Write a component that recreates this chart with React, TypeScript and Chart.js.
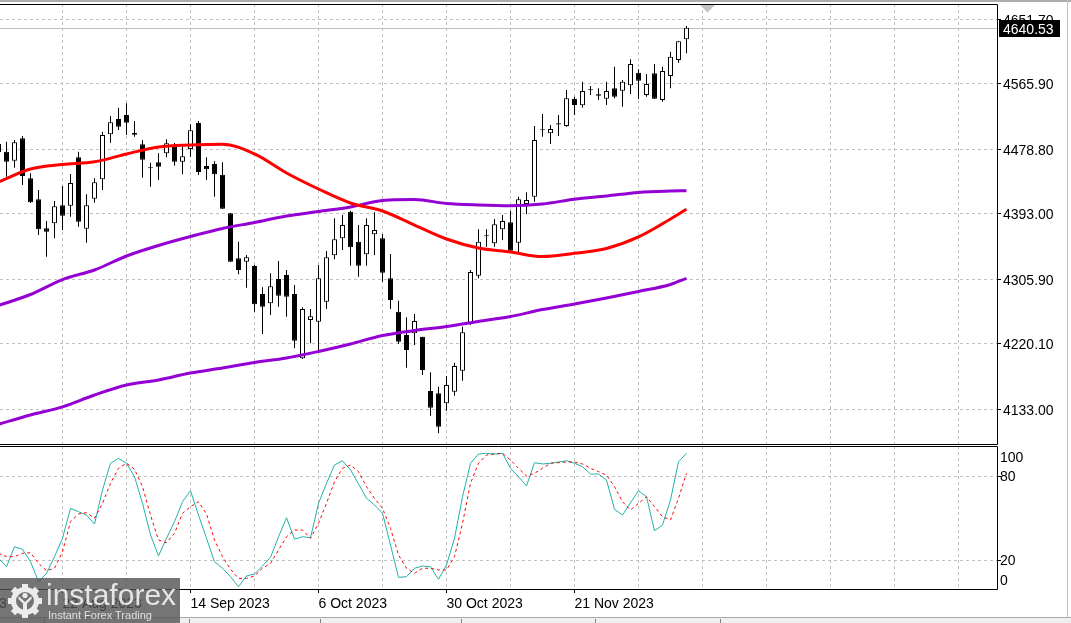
import React, { useEffect, useRef } from 'react';
import { Chart, registerables } from 'chart.js';

Chart.register(...registerables);

// ---------------- data ----------------
const barOpen = [
  4475.2, 4475.6, 4463.6, 4493.4, 4440.2, 4412.3, 4373.7, 4380.4, 4404.3, 4403.8,
  4468.2, 4373.2, 4413.1, 4438.9, 4498.8, 4519.1, 4524.4, 4500.5, 4485.5, 4453.9,
  4461.5, 4473.5, 4482.3, 4462.3, 4479.2, 4513.8, 4456.6, 4459.3, 4445.0, 4393.7,
  4333.8, 4329.3, 4323.6, 4286.4, 4274.0, 4306.3, 4311.6, 4286.4, 4200.8, 4251.8,
  4249.5, 4276.1, 4337.8, 4360.4, 4395.8, 4355.9, 4339.2, 4365.8, 4360.4, 4307.2,
  4262.8, 4231.8, 4234.1, 4229.6, 4157.3, 4154.3, 4141.0, 4156.4, 4184.3, 4247.4,
  4310.7, 4364.4, 4353.8, 4372.4, 4381.7, 4354.6, 4406.1, 4415.8, 4504.5, 4500.1,
  4513.4, 4509.8, 4545.7, 4537.3, 4557.9, 4552.0, 4546.1, 4559.9, 4556.7, 4563.9,
  4580.7, 4551.0, 4579.9, 4544.4, 4576.3, 4597.6, 4625.1,
];
const barHigh = [
  4491.2, 4488.9, 4491.2, 4496.5, 4446.9, 4424.7, 4383.4, 4410.0, 4430.0, 4446.0,
  4475.6, 4419.0, 4440.2, 4502.2, 4523.1, 4534.1, 4540.0, 4516.4, 4491.2, 4461.0,
  4473.5, 4492.1, 4487.2, 4482.3, 4512.1, 4516.4, 4468.2, 4462.8, 4461.5, 4394.1,
  4355.9, 4338.2, 4324.9, 4295.3, 4313.9, 4330.2, 4318.3, 4298.3, 4268.7, 4266.4,
  4324.9, 4343.5, 4387.0, 4391.4, 4397.1, 4378.1, 4387.0, 4395.0, 4366.2, 4339.6,
  4277.4, 4255.4, 4259.8, 4229.6, 4182.2, 4163.1, 4177.3, 4195.0, 4242.9, 4318.3,
  4372.4, 4372.4, 4386.1, 4391.4, 4396.7, 4415.8, 4421.6, 4509.8, 4525.8, 4511.1,
  4524.4, 4557.7, 4548.8, 4568.7, 4563.0, 4559.9, 4568.7, 4588.7, 4571.0, 4598.5,
  4585.2, 4579.0, 4592.3, 4588.7, 4608.6, 4622.4, 4642.8,
];
const barLow = [
  4469.9, 4442.4, 4454.3, 4431.3, 4407.4, 4364.8, 4336.0, 4360.4, 4371.5, 4389.2,
  4375.9, 4354.6, 4407.8, 4424.7, 4487.6, 4504.5, 4497.8, 4495.6, 4441.0, 4429.1,
  4438.0, 4468.2, 4457.0, 4445.6, 4469.0, 4444.6, 4438.0, 4415.8, 4399.4, 4328.9,
  4312.6, 4294.7, 4262.8, 4233.2, 4258.4, 4269.5, 4256.2, 4214.1, 4199.9, 4220.8,
  4211.9, 4266.4, 4332.5, 4344.9, 4324.0, 4309.4, 4324.0, 4338.2, 4302.7, 4266.4,
  4219.9, 4188.3, 4218.5, 4178.6, 4124.5, 4101.1, 4131.1, 4151.1, 4171.0, 4245.1,
  4307.2, 4349.3, 4349.3, 4358.2, 4342.2, 4340.9, 4392.8, 4409.1, 4495.6, 4485.9,
  4496.5, 4508.9, 4524.4, 4534.1, 4551.0, 4544.4, 4537.7, 4546.6, 4535.5, 4552.4,
  4545.7, 4548.8, 4545.7, 4542.1, 4559.9, 4594.0, 4606.5,
];
const barClose = [
  4485.9, 4462.3, 4488.1, 4443.3, 4408.3, 4372.4, 4369.2, 4403.0, 4390.5, 4434.0,
  4382.5, 4404.3, 4434.9, 4497.8, 4514.7, 4508.9, 4514.2, 4498.2, 4465.0, 4453.5,
  4455.7, 4486.8, 4462.3, 4469.5, 4504.1, 4448.6, 4452.2, 4445.6, 4399.8, 4329.3,
  4318.3, 4335.2, 4272.7, 4269.5, 4296.6, 4284.1, 4282.8, 4224.2, 4266.4, 4256.7,
  4307.2, 4335.2, 4359.1, 4378.1, 4348.5, 4324.0, 4378.1, 4371.5, 4314.7, 4278.4,
  4222.9, 4211.9, 4250.4, 4185.3, 4135.1, 4109.9, 4165.3, 4190.6, 4235.4, 4315.6,
  4355.9, 4363.1, 4379.1, 4383.4, 4343.9, 4412.3, 4411.4, 4491.2, 4504.1, 4505.8,
  4511.8, 4546.6, 4537.7, 4556.3, 4557.4, 4550.1, 4556.3, 4548.8, 4568.7, 4592.3,
  4570.0, 4565.7, 4546.1, 4582.9, 4602.0, 4622.4, 4640.53,
];

// moving averages, read at these bar indices
const maBars = [0, 4, 8, 12, 16, 20, 24, 28, 32, 36, 40, 44, 48, 52, 56, 60, 64, 68, 72, 76, 80, 84, 86];
const maRed = [4435.3, 4452.6, 4458.6, 4462.2, 4472.6, 4481.9, 4484.5, 4485.5, 4472.6, 4447.3, 4426.0, 4407.4, 4396.7, 4378.1, 4359.5, 4347.5, 4342.2, 4336.2, 4340.5, 4346.9, 4362.2, 4386.1, 4399.0];
const maVioletUpper = [4271.1, 4285.7, 4305.6, 4318.3, 4336.9, 4350.9, 4362.8, 4373.5, 4381.4, 4390.1, 4396.1, 4402.1, 4410.7, 4412.0, 4406.7, 4404.7, 4403.8, 4406.1, 4412.4, 4416.7, 4421.5, 4423.3, 4423.7];
const maVioletLower = [4113.05, 4125.4, 4136.3, 4152.0, 4165.3, 4172.0, 4181.3, 4187.9, 4195.2, 4201.2, 4209.9, 4219.9, 4231.2, 4237.8, 4243.1, 4249.8, 4256.4, 4265.7, 4273.1, 4281.0, 4289.7, 4299.0, 4307.2];

// stochastic oscillator
const stochMain = [
  21.2, 15.2, 29.5, 27.6, 18.8, 4.5, 10.5, 22.4, 35.5, 56.9,
  54.5, 52.1, 45.7, 70, 89.1, 92.6, 89.1, 79.5, 60.5, 37.9,
  22.9, 35.5, 47.4, 61.6, 69.5, 52.1, 35.5, 18.8, 14.1, 8.1,
  0.9, 8.6, 10, 15.7, 21.9, 36.6, 50.2, 35, 36.6, 35.9,
  60.5, 74.8, 87.9, 90.9, 84.3, 74.3, 64.1, 59.3, 53.4, 30.7,
  7.6, 8.1, 14.1, 15.7, 15.2, 6.2, 16.4, 35.5, 65.2, 89.1,
  95.7, 96.2, 95.7, 96.2, 85.5, 79.5, 72.9, 89.5, 88.6, 89.1,
  90, 90.9, 89.1, 86.6, 81.4, 81.4, 77.1, 56.2, 52.1, 60.9,
  69.5, 65.2, 40.9, 45, 62.9, 90.2, 96.2,
];
const stochSignal = [
  24.8, 22.4, 22.4, 24.8, 25.2, 17.6, 12.4, 14.1, 25.9, 47.4,
  52.9, 53.8, 49.8, 60.5, 74.8, 85.5, 89.1, 84.8, 72.4, 52.1,
  34.3, 32.4, 39.1, 53.4, 58.1, 61.6, 52.9, 34.3, 22.4, 13.4,
  6.9, 6.9, 8.6, 14.1, 17.6, 27.1, 36.6, 41.4, 41.4, 35.5,
  46.2, 60.5, 75.9, 85.5, 87.9, 83.1, 72.4, 64.1, 56.9, 42.6,
  23.6, 14.1, 10.5, 14.1, 14.1, 12.9, 12.9, 22.4, 46.2, 74.8,
  89.1, 95, 95.7, 96.2, 91.4, 85.5, 80, 81.9, 85.5, 89.1,
  89.5, 90, 90, 88.6, 85.5, 83.1, 80.7, 72.4, 61.6, 55.7,
  60.5, 65.2, 58.1, 50.9, 48.6, 64.1, 81.9,
];

// axes
const priceTicks = [4133.0, 4220.1, 4305.9, 4393.0, 4478.8, 4565.9, 4651.7];
const lastPrice = 4640.53;
const stochGridLevels = [20, 80];
const stochLabels = [100, 80, 20, 0];
const dateTickBars = [-8, 8, 24, 40, 56, 72];
const dateTickLabels = ['31 Jul 2023', '22 Aug 2023', '14 Sep 2023', '6 Oct 2023', '30 Oct 2023', '21 Nov 2023'];

// ---------------- layout / style ----------------
const W = 1071;
const AXIS_W = 74;
const X_MIN = 0.1875;
const X_MAX = 124.8125;
const PRICE_MIN = 4086.85;
const PRICE_MAX = 4672.05;
const STOCH_MIN = -0.71;
const STOCH_MAX = 101.43;
const GRID = '#c0c0c0';
const FAMILY = "'Liberation Sans', Arial, sans-serif";
const FONT = { family: FAMILY, size: 14 };
const LABEL_SHIFT = 1.5;
const SHIFT_MARK_X = 707.5;
const tabSeparators = [44, 189, 320, 461, 595, 720];

const mainDecor = {
  id: 'mainDecor',
  beforeDatasetsDraw(chart: any) {
    const { ctx, chartArea: a, scales } = chart;
    const y = Math.round(scales.y.getPixelForValue(lastPrice)) + 0.5;
    ctx.save();
    ctx.strokeStyle = '#c0c0c0';
    ctx.lineWidth = 1;
    ctx.beginPath();
    ctx.moveTo(a.left, y);
    ctx.lineTo(a.right, y);
    ctx.stroke();
    ctx.restore();
  },
  afterDraw(chart: any) {
    const { ctx, chartArea: a, scales } = chart;
    ctx.save();
    // frame
    ctx.strokeStyle = '#000';
    ctx.lineWidth = 1;
    ctx.beginPath();
    ctx.moveTo(a.left, a.top + 0.5);
    ctx.lineTo(a.right + 0.5, a.top + 0.5);
    ctx.lineTo(a.right + 0.5, a.bottom + 0.5);
    ctx.lineTo(a.left, a.bottom + 0.5);
    ctx.stroke();
    // shift marker
    ctx.fillStyle = '#c4c4c4';
    ctx.beginPath();
    ctx.moveTo(SHIFT_MARK_X - 7.5, a.top + 1);
    ctx.lineTo(SHIFT_MARK_X + 7.5, a.top + 1);
    ctx.lineTo(SHIFT_MARK_X, a.top + 8.5);
    ctx.closePath();
    ctx.fill();
    // last price label
    const y = Math.round(scales.y.getPixelForValue(lastPrice)) + 0.5;
    ctx.fillStyle = '#000';
    ctx.fillRect(a.right + 2, y - 8.5, 61, 17);
    ctx.fillStyle = '#fff';
    ctx.font = `14px ${FAMILY}`;
    ctx.textBaseline = 'middle';
    ctx.textAlign = 'left';
    ctx.fillText(lastPrice.toFixed(2), a.right + 6, y + LABEL_SHIFT);
    ctx.restore();
  },
};

const subDecor = {
  id: 'subDecor',
  afterDraw(chart: any) {
    const { ctx, chartArea: a, scales } = chart;
    ctx.save();
    ctx.strokeStyle = '#000';
    ctx.lineWidth = 1;
    ctx.beginPath();
    ctx.moveTo(a.left, a.top + 0.5);
    ctx.lineTo(a.right + 0.5, a.top + 0.5);
    ctx.lineTo(a.right + 0.5, a.bottom + 0.5);
    ctx.lineTo(a.left, a.bottom + 0.5);
    ctx.stroke();
    ctx.fillStyle = '#000';
    ctx.font = `14px ${FAMILY}`;
    ctx.textBaseline = 'middle';
    ctx.textAlign = 'left';
    stochLabels.forEach((v) => {
      let py = scales.y.getPixelForValue(v);
      py = Math.max(a.top + 11, Math.min(a.bottom - 9, py));
      ctx.fillText(String(v), a.right + 3, py + LABEL_SHIFT);
    });
    ctx.restore();
  },
};

export default function App() {
  const mainRef = useRef<HTMLCanvasElement>(null);
  const subRef = useRef<HTMLCanvasElement>(null);

  useEffect(() => {
    const bars = barOpen.map((_, i) => i);
    const gridBars: number[] = [];
    for (let b = 0; b <= 120; b += 8) gridBars.push(b);
    const subTickBars = [-8, ...gridBars];

    const main = new Chart(mainRef.current as HTMLCanvasElement, {
      type: 'bar',
      data: {
        datasets: [
          {
            type: 'line', label: 'MA red',
            data: maBars.map((b, k) => ({ x: b, y: maRed[k] })),
            borderColor: '#ff0000', borderWidth: 3, pointRadius: 0,
            cubicInterpolationMode: 'monotone', order: 1,
          },
          {
            type: 'line', label: 'MA violet upper',
            data: maBars.map((b, k) => ({ x: b, y: maVioletUpper[k] })),
            borderColor: '#9400d3', borderWidth: 3, pointRadius: 0,
            cubicInterpolationMode: 'monotone', order: 2,
          },
          {
            type: 'line', label: 'MA violet lower',
            data: maBars.map((b, k) => ({ x: b, y: maVioletLower[k] })),
            borderColor: '#9400d3', borderWidth: 3, pointRadius: 0,
            cubicInterpolationMode: 'monotone', order: 2,
          },
          {
            type: 'bar', label: 'body',
            data: bars.map((i) => ({ x: i, y: [barOpen[i], barClose[i]] })),
            backgroundColor: bars.map((i) => (barClose[i] > barOpen[i] ? '#ffffff' : '#000000')),
            borderColor: '#000000', borderWidth: 1, borderSkipped: false,
            barThickness: 5, grouped: false, inflateAmount: 0, minBarLength: 1, order: 5,
          },
          {
            type: 'bar', label: 'wick',
            data: bars.map((i) => ({ x: i, y: [barLow[i], barHigh[i]] })),
            backgroundColor: '#000000', borderWidth: 0,
            barThickness: 1, grouped: false, inflateAmount: 0, order: 6,
          },
        ] as any,
      },
      options: {
        animation: false,
        responsive: false,
        events: [],
        layout: { padding: { top: 4, bottom: 2, left: 0, right: 0 } },
        plugins: { legend: { display: false }, tooltip: { enabled: false } },
        scales: {
          x: {
            type: 'linear', min: X_MIN, max: X_MAX, offset: false, bounds: 'data',
            afterBuildTicks: (s: any) => { s.ticks = gridBars.map((v) => ({ value: v })); },
            afterFit: (s: any) => { s.height = 0; s.paddingLeft = 0; s.paddingRight = 0; },
            ticks: { display: false },
            grid: { color: GRID, drawTicks: false, offset: false },
            border: { display: false, dash: [3, 3] },
          },
          y: {
            type: 'linear', position: 'right', min: PRICE_MIN, max: PRICE_MAX,
            beginAtZero: false, bounds: 'data',
            afterBuildTicks: (s: any) => { s.ticks = priceTicks.map((v) => ({ value: v })); },
            afterFit: (s: any) => { s.width = AXIS_W; s.paddingTop = 0; s.paddingBottom = 0; },
            ticks: {
              callback: (v: any) => Number(v).toFixed(2), color: '#000', font: FONT,
              padding: 2, autoSkip: false, labelOffset: LABEL_SHIFT,
            },
            grid: { color: GRID, drawTicks: true, tickLength: 4, tickColor: '#000', tickBorderDash: [] },
            border: { display: false, dash: [3, 3] },
          },
        } as any,
      },
      plugins: [mainDecor],
    } as any);

    const sub = new Chart(subRef.current as HTMLCanvasElement, {
      type: 'line',
      data: {
        datasets: [
          {
            label: 'Signal',
            data: bars.map((i) => ({ x: i, y: stochSignal[i] })),
            borderColor: '#ff0000', borderWidth: 1, borderDash: [3, 3],
            pointRadius: 0, tension: 0, order: 1,
          },
          {
            label: 'Main',
            data: bars.map((i) => ({ x: i, y: stochMain[i] })),
            borderColor: '#20b2aa', borderWidth: 1,
            pointRadius: 0, tension: 0, order: 2,
          },
        ],
      },
      options: {
        animation: false,
        responsive: false,
        events: [],
        layout: { padding: { top: 1, bottom: 0, left: 0, right: 0 } },
        plugins: { legend: { display: false }, tooltip: { enabled: false } },
        scales: {
          x: {
            type: 'linear', min: X_MIN, max: X_MAX, offset: false, bounds: 'data',
            afterBuildTicks: (s: any) => { s.ticks = subTickBars.map((v) => ({ value: v })); },
            afterFit: (s: any) => { s.height = 34; s.paddingLeft = 0; s.paddingRight = 0; },
            ticks: {
              callback: (v: any) => {
                const k = dateTickBars.indexOf(Number(v));
                return k >= 0 ? dateTickLabels[k] : '';
              },
              align: 'start', autoSkip: false, maxRotation: 0, minRotation: 0,
              padding: 3, color: '#000', font: FONT,
            },
            grid: {
              color: GRID, drawTicks: true, tickLength: 4, offset: false,
              tickColor: (c: any) => (c.tick && dateTickBars.includes(c.tick.value) ? '#000' : 'rgba(0,0,0,0)'),
              tickBorderDash: [],
            },
            border: { display: false, dash: [3, 3] },
          },
          y: {
            type: 'linear', position: 'right', min: STOCH_MIN, max: STOCH_MAX, bounds: 'data',
            afterBuildTicks: (s: any) => { s.ticks = stochGridLevels.map((v) => ({ value: v })); },
            afterFit: (s: any) => { s.width = AXIS_W; s.paddingTop = 0; s.paddingBottom = 0; },
            ticks: { display: false },
            grid: { color: GRID, drawTicks: true, tickLength: 4, tickColor: '#000', tickBorderDash: [] },
            border: { display: false, dash: [3, 3] },
          },
        } as any,
      },
      plugins: [subDecor],
    } as any);

    return () => {
      main.destroy();
      sub.destroy();
    };
  }, []);

  const abs = (s: React.CSSProperties): React.CSSProperties => ({ position: 'absolute', ...s });

  return (
    <div style={{ position: 'fixed', left: 0, top: 0, width: W, height: 623, background: '#ffffff', overflow: 'hidden' }}>
      <canvas ref={mainRef} width={W} height={446} style={abs({ left: 0, top: 0, width: W, height: 446 })} />
      <canvas ref={subRef} width={W} height={178} style={abs({ left: 0, top: 445, width: W, height: 178 })} />
      <div style={abs({ left: 0, top: 0, width: W, height: 2, background: '#acacac' })} />
      <div style={abs({ left: 1067, top: 0, width: 1, height: 617, background: '#c4c4c4' })} />
      <div style={abs({ left: 0, top: 617, width: W, height: 1, background: '#a8a8a8' })} />
      <div style={abs({ left: 0, top: 618, width: W, height: 5, background: '#f0f0f0' })} />
      {tabSeparators.map((x) => (
        <div key={x} style={abs({ left: x, top: 619, width: 1, height: 4, background: '#808080' })} />
      ))}
      <div style={abs({ left: 0, top: 578, width: 180, height: 45, background: 'rgba(82,82,82,0.8)' })}>
        <svg width="36" height="36" viewBox="0 0 36 36" style={abs({ left: 7, top: 5 })}>
          <g fill="#ececec">
            {[0, 45, 90, 135, 180, 225, 270, 315].map((a) => (
              <rect key={a} x="15" y="1" width="6" height="8" transform={`rotate(${a} 18 18)`} />
            ))}
          </g>
          <circle cx="18" cy="18" r="11.5" fill="none" stroke="#ececec" strokeWidth="5" />
          <circle cx="18" cy="12.5" r="2.6" fill="#ececec" />
          <path d="M11.5 13 L18 19 L24.5 13 L24.5 16 L20 20.5 L20 27 L16 27 L16 20.5 L11.5 16 Z" fill="#ececec" />
        </svg>
        <div style={abs({ left: 46, top: 2, fontFamily: FAMILY, fontSize: 30, lineHeight: '30px', color: 'rgba(236,236,236,0.95)', whiteSpace: 'nowrap' })}>
          instaforex
        </div>
        <div style={abs({ left: 48, top: 31, fontFamily: FAMILY, fontSize: 11, lineHeight: '12px', color: 'rgba(236,236,236,0.9)', whiteSpace: 'nowrap' })}>
          Instant Forex Trading
        </div>
      </div>
    </div>
  );
}
